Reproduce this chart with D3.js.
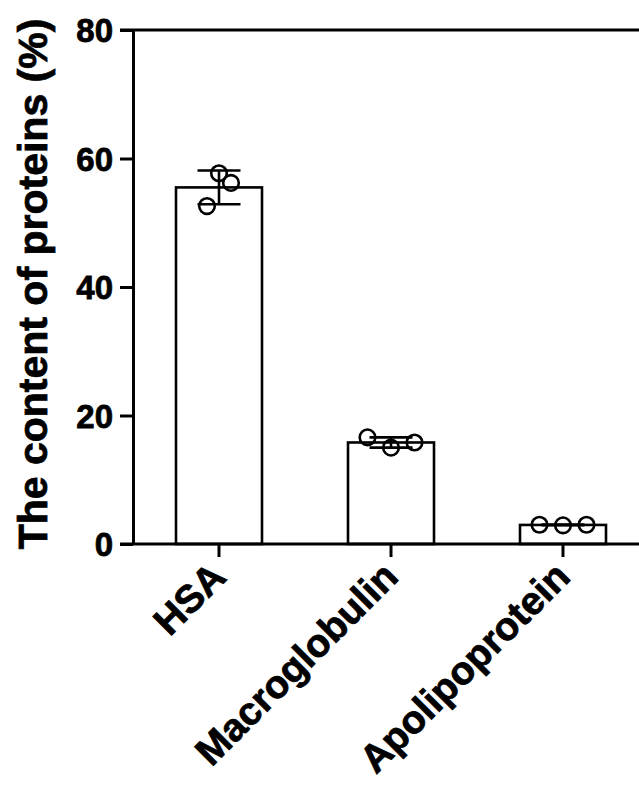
<!DOCTYPE html>
<html>
<head>
<meta charset="utf-8">
<script src="https://cdn.jsdelivr.net/npm/d3@7"></script>
<style>
  body { margin: 0; background: #fff; }
  svg { display: block; font-family: "Liberation Sans", Arial, sans-serif; font-weight: bold; }
</style>
</head>
<body>
<div id="graph"></div>
<script>
// chart values
var categories = ["HSA", "Macroglobulin", "Apolipoprotein"];
var hsaPoints = [52.6, 57.7, 56.2];
var macroPoints = [16.6, 15.0, 15.8];
var apoPoints = [3.0, 2.9, 3.0];
var yTicks = [0, 20, 40, 60, 80];
var yTitle = "The content of proteins (%)";

function init() {
    var width = 639, height = 785;
    var margin = {top: 30, left: 133, bottom: 241};

    var svg = d3.select("#graph").append("svg")
        .attr("width", width)
        .attr("height", height);

    var groups = [hsaPoints, macroPoints, apoPoints].map(function (pts, i) {
        var mean = d3.mean(pts);
        var sd = d3.deviation(pts);
        return {name: categories[i], points: pts, mean: mean, sd: sd};
    });

    var x = d3.scaleBand()
        .domain(categories)
        .range([margin.left, margin.left + 3 * 172])
        .paddingInner(0.5)
        .paddingOuter(0.25);

    var y = d3.scaleLinear()
        .domain([0, 80])
        .range([height - margin.bottom, margin.top]);

    // horizontal spread of the dots inside each bar
    var spread = [12, 23.5, 23.5];

    // bars
    svg.selectAll("rect.bar")
        .data(groups)
        .enter().append("rect")
        .attr("class", "bar")
        .attr("x", function (d) { return x(d.name); })
        .attr("y", function (d) { return y(d.mean); })
        .attr("width", x.bandwidth())
        .attr("height", function (d) { return y(0) - y(d.mean); })
        .style("fill", "#fff")
        .style("stroke", "#000")
        .style("stroke-width", 2.6);

    // error bars (mean +/- SD)
    groups.forEach(function (d) {
        var cx = x(d.name) + x.bandwidth() / 2;
        var capW = x.bandwidth() / 4;
        var g = svg.append("g").style("stroke", "#000").style("stroke-width", 2.6);
        g.append("line")
            .attr("x1", cx).attr("x2", cx)
            .attr("y1", y(d.mean + d.sd)).attr("y2", y(d.mean - d.sd));
        [d.mean + d.sd, d.mean - d.sd].forEach(function (v) {
            g.append("line")
                .attr("x1", cx - capW).attr("x2", cx + capW)
                .attr("y1", y(v)).attr("y2", y(v));
        });
    });

    // individual points
    groups.forEach(function (d, gi) {
        var cx = x(d.name) + x.bandwidth() / 2;
        d.points.forEach(function (v, i) {
            svg.append("circle")
                .attr("cx", cx + (i - 1) * spread[gi])
                .attr("cy", y(v))
                .attr("r", 7.8)
                .style("fill", "none")
                .style("stroke", "#000")
                .style("stroke-width", 2.6);
        });
    });

    // y axis
    var yAxis = svg.append("g")
        .attr("transform", "translate(" + margin.left + ",0)")
        .call(d3.axisLeft(y).tickValues(yTicks).tickSize(13).tickPadding(7).tickSizeOuter(0));
    yAxis.select(".domain").style("stroke-width", 3);
    yAxis.selectAll(".tick line").style("stroke-width", 3);
    yAxis.selectAll(".tick text")
        .style("font-size", "33px")
        .style("font-family", "'Liberation Sans', Arial, sans-serif")
        .style("font-weight", "bold")
        .style("stroke", "#000")
        .style("stroke-width", 0.8)
        .attr("dy", "0.36em");

    // top frame line and extended baseline
    svg.append("line")
        .attr("x1", margin.left - 13).attr("x2", width)
        .attr("y1", y(80)).attr("y2", y(80))
        .style("stroke", "#000").style("stroke-width", 3);
    svg.append("line")
        .attr("x1", margin.left - 13).attr("x2", width)
        .attr("y1", y(0)).attr("y2", y(0))
        .style("stroke", "#000").style("stroke-width", 3);

    // x axis ticks and labels
    var xAxis = svg.append("g")
        .attr("transform", "translate(0," + y(0) + ")")
        .call(d3.axisBottom(x).tickSize(13).tickSizeOuter(0));
    xAxis.select(".domain").remove();
    xAxis.selectAll(".tick line").style("stroke-width", 3);
    xAxis.selectAll(".tick text")
        .style("font-size", "39px")
        .style("font-family", "'Liberation Sans', Arial, sans-serif")
        .style("font-weight", "bold")
        .style("stroke", "#000")
        .style("stroke-width", 0.8)
        .attr("text-anchor", "end")
        .attr("dy", 0)
        .attr("y", 0)
        .attr("transform", "translate(9,35) rotate(-45)");

    // y title
    svg.append("text")
        .attr("transform", "translate(47,284) rotate(-90)")
        .attr("text-anchor", "middle")
        .style("font-size", "41px")
        .style("stroke", "#000")
        .style("stroke-width", 0.8)
        .text(yTitle);
}

window.addEventListener('DOMContentLoaded', init);
</script>
</body>
</html>
